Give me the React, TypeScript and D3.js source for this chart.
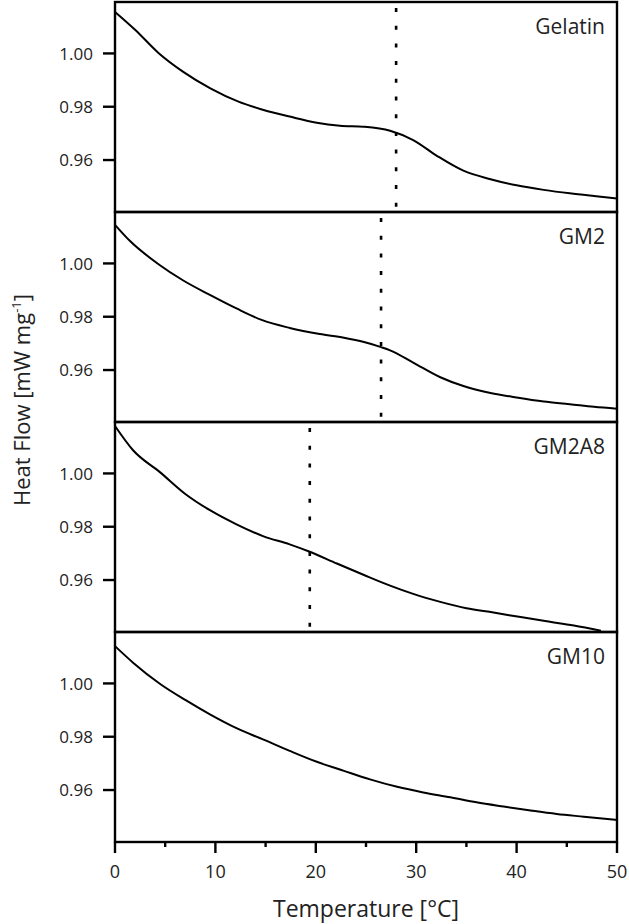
import * as d3 from 'd3';

// sample names, top to bottom
const panelNames = ['Gelatin', 'GM2', 'GM2A8', 'GM10'];

// temperature [°C] / heat flow [mW mg-1]
const gelatinT = [0, 2.0, 4.3, 6.8, 9.5, 12.3, 14.8, 17.4, 20.1, 22.4, 24.8, 27.4, 29.7, 32.1, 34.7, 37.4, 40, 42.7, 45.3, 47.7, 50];
const gelatinHF = [1.0156, 1.0089, 1.0003, 0.9931, 0.9869, 0.9819, 0.9788, 0.9763, 0.974, 0.9729, 0.9725, 0.971, 0.9675, 0.9615, 0.956, 0.9528, 0.9505, 0.9488, 0.9475, 0.9465, 0.9456];

const gm2T = [0, 1.5, 4.3, 6.8, 9.5, 12.1, 14.6, 17.4, 20.4, 22.8, 24.8, 26.5, 27.4, 29.7, 32.4, 34.7, 37.4, 40, 42.7, 45.3, 47.7, 50];
const gm2HF = [1.0145, 1.0084, 0.9998, 0.9936, 0.9881, 0.9831, 0.9788, 0.9758, 0.9735, 0.9721, 0.9705, 0.9686, 0.9674, 0.9628, 0.9573, 0.954, 0.9514, 0.9497, 0.9482, 0.9472, 0.9462, 0.9455];

const gm2a8T = [0, 1.8, 4.5, 7.0, 9.5, 12.1, 14.8, 17.4, 19.4, 22.1, 24.8, 27.4, 29.7, 32.4, 35.0, 37.7, 40.4, 43.0, 45.7, 48.4];
const gm2a8HF = [1.0178, 1.0087, 1.0004, 0.9923, 0.9861, 0.9809, 0.9764, 0.9734, 0.9706, 0.9662, 0.9619, 0.9579, 0.9548, 0.9518, 0.9494, 0.9478, 0.9461, 0.9445, 0.9429, 0.9410];

const gm10T = [0, 1.8, 4.5, 7.0, 9.5, 12.1, 14.8, 17.4, 20.1, 22.8, 25.4, 28.1, 30.7, 33.4, 36.0, 38.7, 41.4, 44.0, 46.7, 50];
const gm10HF = [1.014, 1.0078, 0.9998, 0.9938, 0.9883, 0.9832, 0.9789, 0.9747, 0.9706, 0.9672, 0.964, 0.9612, 0.9591, 0.9573, 0.9554, 0.9538, 0.9523, 0.951, 0.95, 0.9488];

// dotted markers (transition temperature), none for GM10
const transitionT = [28.0, 26.5, 19.4, null];

const yTicks = [0.96, 0.98, 1.0];
const xTicks = [0, 10, 20, 30, 40, 50];
const xMinorTicks = [5, 15, 25, 35, 45];

const seriesT = [gelatinT, gm2T, gm2a8T, gm10T];
const seriesHF = [gelatinHF, gm2HF, gm2a8HF, gm10HF];

const W = 629;
const H = 924;
const left = 115;
const right = 617;
const top = 2;
const panelH = 210;
const font = '"Open Sans", "DejaVu Sans", sans-serif';

export default function App() {
  const x = d3.scaleLinear().domain([0, 50]).range([left, right]);
  const bottom = top + panelH * panelNames.length;

  const line = d3.line<[number, number]>()
    .x(d => x(d[0]))
    .curve(d3.curveMonotoneX);

  return (
    <svg width={W} height={H} style={{ position: 'absolute', left: 0, top: 0, background: '#fff' }}>
      {panelNames.map((name, i) => {
        const y0 = top + i * panelH;
        const y = d3.scaleLinear().domain([0.9405, 1.0193]).range([y0 + panelH, y0]);
        const pts = seriesT[i].map((t, k) => [t, seriesHF[i][k]] as [number, number]);
        const tr = transitionT[i];
        return (
          <g key={name}>
            {tr !== null && (
              <line x1={x(tr)} x2={x(tr)} y1={y0 + 6} y2={y0 + panelH + 1}
                stroke="#000" strokeWidth={2.6} strokeDasharray="4,13.7" />
            )}
            <path d={line.y(d => y(d[1]))(pts) ?? ''} fill="none" stroke="#000" strokeWidth={2} strokeLinejoin="round" />
            <rect x={left} y={y0} width={right - left} height={panelH} fill="none" stroke="#000" strokeWidth={2.4} />
            {yTicks.map(v => (
              <g key={v}>
                <line x1={left - 12} x2={left} y1={y(v)} y2={y(v)} stroke="#000" strokeWidth={2.4} />
                <text x={93} y={y(v)} dy="0.36em" textAnchor="end" fontFamily={font} fontSize={17} fill="#222">
                  {d3.format('.2f')(v)}
                </text>
              </g>
            ))}
            <text x={605} y={y0 + 32} textAnchor="end" fontFamily={font} fontSize={21} fill="#222">{name}</text>
          </g>
        );
      })}

      {xTicks.map(t => (
        <g key={t}>
          <line x1={x(t)} x2={x(t)} y1={bottom} y2={bottom + 11} stroke="#000" strokeWidth={2.4} />
          <text x={x(t)} y={878} textAnchor="middle" fontFamily={font} fontSize={18} fill="#222">{t}</text>
        </g>
      ))}
      {xMinorTicks.map(t => (
        <line key={t} x1={x(t)} x2={x(t)} y1={bottom} y2={bottom + 5} stroke="#000" strokeWidth={2.4} />
      ))}

      <text x={(left + right) / 2} y={917} textAnchor="middle" fontFamily={font} fontSize={23} fill="#222">
        Temperature [°C]
      </text>
      <text transform="translate(30,400) rotate(-90)" textAnchor="middle" fontFamily={font} fontSize={22} fill="#222">
        Heat Flow [mW mg<tspan dy="-9" fontSize={13}>-1</tspan><tspan dy="9">]</tspan>
      </text>
    </svg>
  );
}
